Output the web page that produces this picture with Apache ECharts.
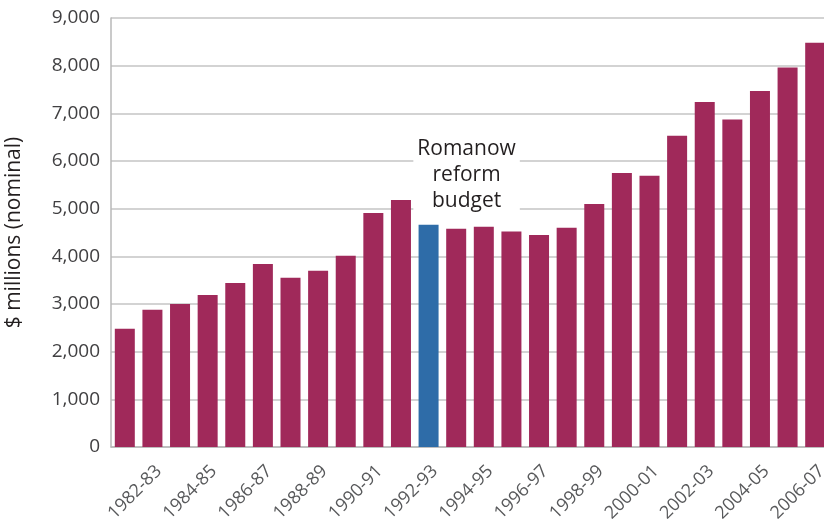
<!DOCTYPE html>
<html>
<head>
<meta charset="utf-8">
<script src="https://cdn.jsdelivr.net/npm/echarts@6/dist/echarts.min.js"></script>
<style>
html,body{margin:0;padding:0;background:#fff;}
#chart{width:824px;height:519px;}
</style>
</head>
<body>
<div id="chart"></div>
<script>
const categories = ['1981-82','1982-83','1983-84','1984-85','1985-86','1986-87','1987-88','1988-89','1989-90','1990-91','1991-92','1992-93','1993-94','1994-95','1995-96','1996-97','1997-98','1998-99','1999-00','2000-01','2001-02','2002-03','2003-04','2004-05','2005-06','2006-07'];
const values = [2480, 2880, 3000, 3190, 3440, 3840, 3550, 3700, 4010, 4910, 5180, 4660, 4580, 4620, 4520, 4450, 4600, 5100, 5750, 5690, 6530, 7240, 6870, 7470, 7960, 8480];
const highlightCategory = '1992-93';
const annotationText = 'Romanow\nreform\nbudget';
const yTicks = { min: 0, max: 9000, interval: 1000 };

const FONT = '"Open Sans", "Noto Sans", sans-serif';
const chart = echarts.init(document.getElementById('chart'), null, { renderer: 'canvas' });

const data = values.map((v, i) => {
  if (categories[i] === highlightCategory) {
    return {
      value: v,
      itemStyle: { color: '#2e6ca8' },
      label: {
        show: true,
        position: 'top',
        formatter: annotationText,
        offset: [38, -4],
        fontFamily: FONT,
        fontSize: 21,
        lineHeight: 26,
        color: '#231f20',
        backgroundColor: '#ffffff',
        padding: [4, 4, 2, 4],
        align: 'center'
      }
    };
  }
  return v;
});

chart.setOption({
  animation: false,
  backgroundColor: '#ffffff',
  grid: { left: 111, right: -5, top: 18, bottom: 72, containLabel: false, outerBoundsMode: 'none' },
  xAxis: {
    type: 'category',
    data: categories,
    axisLine: { show: true, lineStyle: { color: '#b8b8b8', width: 1.5 } },
    axisTick: { show: false },
    axisLabel: {
      interval: (index) => index % 2 === 1,
      rotate: 45,
      fontFamily: FONT,
      fontSize: 18,
      color: '#58595b',
      margin: 15,
      verticalAlign: 'top',
      hideOverlap: false
    }
  },
  yAxis: {
    type: 'value',
    min: yTicks.min,
    max: yTicks.max,
    interval: yTicks.interval,
    name: '$ millions (nominal)',
    nameLocation: 'middle',
    nameGap: 86,
    nameTextStyle: { fontFamily: FONT, fontSize: 21, color: '#231f20' },
    axisLine: { show: true, lineStyle: { color: '#b8b8b8', width: 1.5 } },
    axisTick: { show: false },
    splitLine: { show: true, lineStyle: { color: '#c4c4c4', width: 1.5 } },
    axisLabel: {
      fontFamily: FONT,
      fontSize: 19,
      color: '#414042',
      margin: 11,
      formatter: (v) => v.toLocaleString('en-US')
    }
  },
  series: [{
    type: 'bar',
    data: data,
    barWidth: 20,
    itemStyle: { color: '#a0295a' },
    z: 3
  }]
});
</script>
</body>
</html>
